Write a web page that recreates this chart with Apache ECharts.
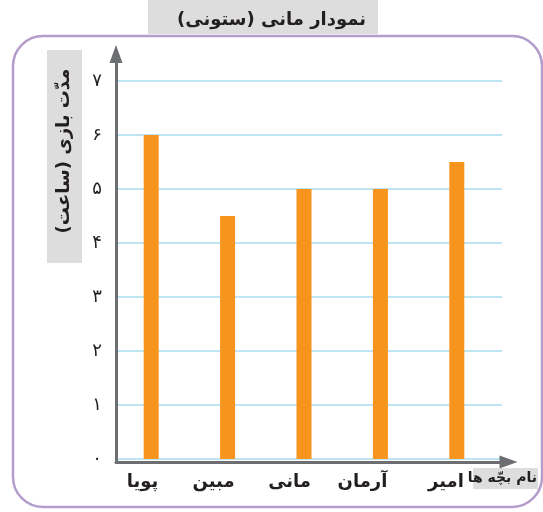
<!DOCTYPE html>
<html dir="rtl">
<head>
<meta charset="utf-8">
<script src="https://cdn.jsdelivr.net/npm/echarts@6/dist/echarts.min.js"></script>
<style>
html,body{margin:0;padding:0;background:#fff;}
#chart{width:543px;height:512px;}
</style>
</head>
<body>
<div id="chart"></div>
<script>
const categories = ['پویا', 'مبین', 'مانی', 'آرمان', 'امیر'];
const hours = [6, 4.5, 5, 5, 5.5];
const yTickLabels = ['۰', '۱', '۲', '۳', '۴', '۵', '۶', '۷'];
const titleText = 'نمودار مانی (ستونی)';
const yName = 'مدّت بازی (ساعت)';
const xName = 'نام بچّه ها';

const FONT = '"DejaVu Sans", sans-serif';
const TXT = '#231f20';
const AXIS = '#6d6e71';

const chart = echarts.init(document.getElementById('chart'), null, {renderer: 'canvas'});
chart.setOption({
  animation: false,
  backgroundColor: '#ffffff',
  title: {
    text: titleText,
    left: 'center',
    top: 6,
    textStyle: {fontFamily: FONT, fontSize: 18, fontWeight: 'bold', color: TXT}
  },
  graphic: [
    {type: 'rect', z: 0, shape: {x: 13, y: 36, width: 529, height: 471, r: 30},
     style: {fill: 'none', stroke: '#b49ccb', lineWidth: 2.5}},
    {type: 'rect', z: 0, shape: {x: 148, y: 0, width: 230, height: 34}, style: {fill: '#dddddd'}},
    {type: 'rect', z: 0, shape: {x: 47, y: 50, width: 35, height: 213}, style: {fill: '#dddddd'}},
    {type: 'rect', z: 0, shape: {x: 473, y: 468, width: 65, height: 21}, style: {fill: '#dddddd'}},
    {type: 'text', z: 10, x: 64, y: 151, rotation: Math.PI / 2,
     style: {text: yName, fontFamily: FONT, fontSize: 18, fontWeight: 'bold', fill: TXT,
             textAlign: 'center', textVerticalAlign: 'middle'}},
    {type: 'text', z: 10, x: 537, y: 478,
     style: {text: xName, fontFamily: FONT, fontSize: 14, fontWeight: 'bold', fill: TXT,
             textAlign: 'right', textVerticalAlign: 'middle'}}
  ],
  grid: [
    {left: 116, right: 41, top: 81, bottom: 53},
    {left: 113, right: 48, top: 81, bottom: 53},
    {left: 120, right: 41, top: 81, bottom: 53},
    {left: 116, right: 34.5, top: 54, bottom: 50}
  ],
  xAxis: [
    {gridIndex: 0, type: 'category', data: categories, show: false},
    {gridIndex: 1, type: 'category', data: categories,
     axisLine: {show: false}, axisTick: {show: false}, axisLabel: {show: false}},
    {gridIndex: 2, type: 'category', data: categories,
     axisLine: {show: false}, axisTick: {show: false},
     axisLabel: {align: 'right', margin: 14, fontFamily: FONT, fontSize: 18, fontWeight: 'bold', color: TXT}},
    {gridIndex: 3, type: 'value', min: 0, max: 1,
     axisLine: {show: true, symbol: ['none', 'triangle'], symbolSize: [13, 18],
                lineStyle: {color: AXIS, width: 3}},
     axisTick: {show: false}, axisLabel: {show: false}, splitLine: {show: false}}
  ],
  yAxis: [
    {gridIndex: 0, type: 'value', min: 0, max: 7, interval: 1,
     axisLine: {show: false}, axisTick: {show: false},
     axisLabel: {formatter: v => yTickLabels[v], margin: 14, fontFamily: FONT, fontSize: 18, color: TXT},
     splitLine: {show: true, lineStyle: {color: '#aadcf0', width: 1.5}}},
    {gridIndex: 1, type: 'value', min: 0, max: 7, show: false},
    {gridIndex: 2, type: 'value', min: 0, max: 7, show: false},
    {gridIndex: 3, type: 'value', min: 0, max: 1,
     axisLine: {show: true, symbol: ['none', 'triangle'], symbolSize: [13, 18],
                lineStyle: {color: AXIS, width: 3}},
     axisTick: {show: false}, axisLabel: {show: false}, splitLine: {show: false}}
  ],
  series: [{
    type: 'bar',
    xAxisIndex: 1,
    yAxisIndex: 1,
    data: hours,
    barWidth: 15,
    itemStyle: {color: '#f7941d'}
  }]
});
</script>
</body>
</html>
